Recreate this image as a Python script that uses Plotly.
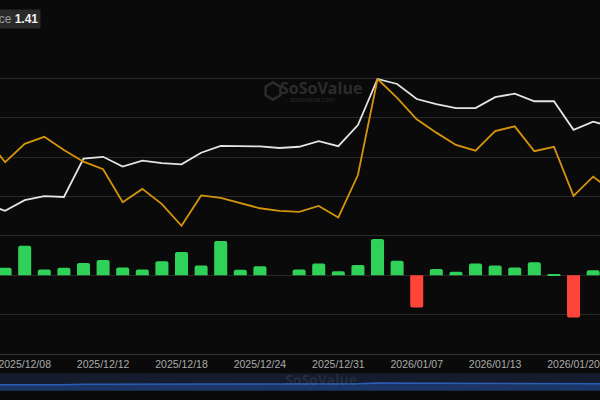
import plotly.graph_objects as go

# ---------------- data ----------------
dates = ["2025/12/04", "2025/12/05", "2025/12/08", "2025/12/09", "2025/12/10", "2025/12/11",
         "2025/12/12", "2025/12/15", "2025/12/16", "2025/12/17", "2025/12/18", "2025/12/19",
         "2025/12/22", "2025/12/23", "2025/12/24", "2025/12/26", "2025/12/29", "2025/12/30",
         "2025/12/31", "2026/01/02", "2026/01/05", "2026/01/06", "2026/01/07", "2026/01/08",
         "2026/01/09", "2026/01/12", "2026/01/13", "2026/01/14", "2026/01/15", "2026/01/16",
         "2026/01/20", "2026/01/21", "2026/01/22"]

# daily net inflow (US$ M)
net_inflow = [12.0, 9.5, 37.5, 7.5, 9.5, 15.5, 19.5, 10.0, 7.5, 18.0, 29.5, 12.5,
              43.5, 7.0, 11.5, 0.0, 7.5, 15.0, 5.0, 13.0, 46.0, 18.5, -40.8, 8.0,
              4.5, 15.0, 12.5, 10.0, 16.5, 1.5, -53.5, 6.5, 5.0]

# total net assets (US$ B)
total_assets = [1.278, 1.256, 1.290, 1.303, 1.300, 1.422, 1.428, 1.397, 1.416, 1.408, 1.404,
                1.441, 1.463, 1.463, 1.461, 1.456, 1.460, 1.478, 1.462, 1.529, 1.676, 1.660,
                1.612, 1.596, 1.583, 1.583, 1.618, 1.629, 1.605, 1.605, 1.514, 1.540, 1.523]

# price
price = [2.177, 2.083, 2.153, 2.180, 2.130, 2.085, 2.056, 1.930, 1.981, 1.923, 1.840,
         1.956, 1.947, 1.926, 1.907, 1.897, 1.893, 1.916, 1.872, 2.034, 2.401, 2.329,
         2.247, 2.196, 2.149, 2.127, 2.202, 2.220, 2.125, 2.142, 1.954, 2.028, 1.971]

tick_labels = ["2025/12/08", "2025/12/12", "2025/12/18", "2025/12/24",
               "2025/12/31", "2026/01/07", "2026/01/13", "2026/01/20"]

bar_colors = ["#30d158" if v >= 0 else "#ff453a" for v in net_inflow]

BG = "#0a0a0a"
FONT = "Liberation Sans, Arial, sans-serif"
XR = [0.74, 31.35]

fig = go.Figure()

fig.add_trace(go.Bar(x=dates, y=net_inflow, marker=dict(color=bar_colors, line=dict(width=0), cornerradius=2),
                     xaxis="x", yaxis="y", showlegend=False))
fig.add_trace(go.Scatter(x=dates, y=price, mode="lines", line=dict(color="#d4940e", width=1.8),
                         xaxis="x", yaxis="y3", showlegend=False))
fig.add_trace(go.Scatter(x=dates, y=total_assets, mode="lines", line=dict(color="#e4e4e4", width=1.8),
                         xaxis="x", yaxis="y2", showlegend=False))

# navigator
fig.add_trace(go.Scatter(x=dates, y=total_assets, mode="lines", fill="tozeroy",
                         fillcolor="#1b3566", line=dict(color="#2c5db5", width=1.5),
                         xaxis="x2", yaxis="y4", showlegend=False, hoverinfo="skip"))

def py(p):
    return (400 - p) / 360.0

fig.update_layout(
    width=600, height=400,
    margin=dict(l=0, r=0, t=40, b=0),
    paper_bgcolor=BG, plot_bgcolor=BG,
    font=dict(family=FONT, color="#a6a6a6", size=10.5),
    bargap=0.335,
    xaxis=dict(type="category", range=XR, domain=[0, 1], anchor="y",
               tickmode="array", tickvals=tick_labels, ticktext=tick_labels,
               showgrid=False, showline=True, linecolor="#333333", linewidth=1,
               ticks="", tickfont=dict(size=10.5, color="#ababab"), automargin=False,
               zeroline=False),
    yaxis=dict(domain=[py(354), 1], range=[-100, 299], dtick=50, tick0=0,
               showgrid=True, gridcolor="#282828", gridwidth=1, zeroline=False,
               showticklabels=False, ticks="", automargin=False),
    yaxis2=dict(overlaying="y", range=[0.80, 1.80], showgrid=False, zeroline=False,
                showticklabels=False, ticks="", automargin=False),
    yaxis3=dict(overlaying="y", range=[1.35, 2.55], showgrid=False, zeroline=False,
                showticklabels=False, ticks="", automargin=False),
    xaxis2=dict(type="category", range=XR, domain=[0, 1], anchor="y4", visible=False),
    yaxis4=dict(domain=[py(390.7), py(373.3)], range=[0, 3.8], visible=False),
)

# navigator background
fig.add_shape(type="rect", xref="paper", yref="paper", x0=0, x1=1,
              y0=py(390.7), y1=py(373.3), fillcolor="#141c2e", line=dict(width=0), layer="below")

# watermark icon (hexagon)
cx, cy, r = 273, 91, 8.5
pts = [(cx, cy - r), (cx + r * 0.87, cy - r / 2), (cx + r * 0.87, cy + r / 2),
       (cx, cy + r), (cx - r * 0.87, cy + r / 2), (cx - r * 0.87, cy - r / 2)]
path = "M " + " L ".join(f"{x/600:.4f},{py(y):.4f}" for x, y in pts) + " Z"
fig.add_shape(type="path", xref="paper", yref="paper", path=path,
              line=dict(color="#2c2c2c", width=2.5), fillcolor="rgba(0,0,0,0)")

fig.add_annotation(xref="paper", yref="paper", x=321 / 600, y=py(88), xanchor="center", yanchor="middle",
                   text="<b>SoSoValue</b>", showarrow=False,
                   font=dict(family="Open Sans, sans-serif", size=16, color="#2c2c2c"))
fig.add_annotation(xref="paper", yref="paper", x=312 / 600, y=py(100), xanchor="center", yanchor="middle",
                   text="sosovalue.com", showarrow=False,
                   font=dict(family="Open Sans, sans-serif", size=6.5, color="#2a2a2a"))
fig.add_annotation(xref="paper", yref="paper", x=321 / 600, y=py(379), xanchor="center", yanchor="middle",
                   text="<b>SoSoValue</b>", showarrow=False,
                   font=dict(family="Open Sans, sans-serif", size=14, color="rgba(160,170,190,0.13)"))

# cut tooltip box at top-left
fig.add_annotation(xref="paper", yref="paper", x=41 / 600, y=py(19.5), xanchor="right", yanchor="middle",
                   text="<span style='color:#9a9a9a'>Price</span> <b>1.41</b>", showarrow=False,
                   bgcolor="#2a2a2a", borderpad=2,
                   font=dict(family=FONT, size=12, color="#f0f0f0"))

fig.write_html("out.html", config={"displayModeBar": False},
               post_script="document.body.style.margin='0px';document.body.style.background='#0a0a0a';"
                           "document.documentElement.style.overflow='hidden';")
